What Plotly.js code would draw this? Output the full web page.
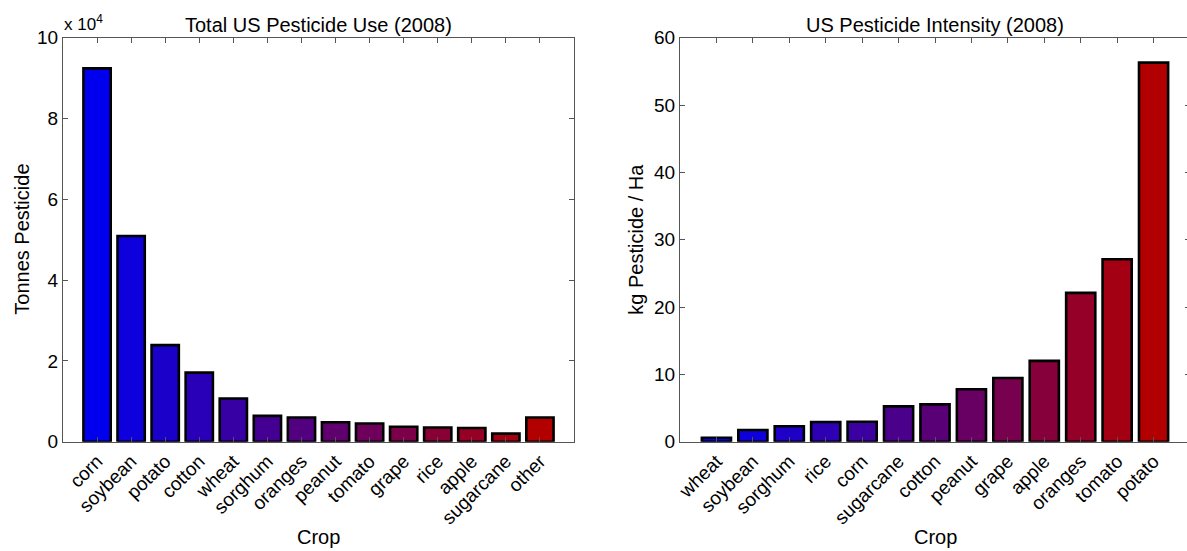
<!DOCTYPE html>
<html>
<head>
<meta charset="utf-8">
<script src="https://cdn.plot.ly/plotly-3.0.1.min.js"></script>
<style>
html,body{margin:0;padding:0;overflow:hidden;background:#fff;width:1187px;height:551px;}
#chart{width:1196px;height:551px;}
</style>
</head>
<body>
<div id="chart"></div>
<script>
// ---- data ----
var useCrops = ["corn","soybean","potato","cotton","wheat","sorghum","oranges","peanut","tomato","grape","rice","apple","sugarcane","other"];
var useTonnes = [92400, 50900, 23900, 17100, 10700, 6400, 6000, 4800, 4500, 3700, 3500, 3400, 2000, 6000];
var useTickVals = [0, 20000, 40000, 60000, 80000, 100000];
var useTickText = ["0","2","4","6","8","10"];

var intCrops = ["wheat","soybean","sorghum","rice","corn","sugarcane","cotton","peanut","grape","apple","oranges","tomato","potato"];
var intKgHa = [0.59, 1.74, 2.29, 2.92, 2.97, 5.25, 5.55, 7.78, 9.46, 12.0, 22.1, 27.1, 56.3];
var intTickVals = [0, 10, 20, 30, 40, 50, 60];

// ---- style helpers ----
function ramp(n){
  var out=[];
  for(var i=0;i<n;i++){
    var t = n>1 ? i/(n-1) : 0;
    var r = Math.round(0 + t*178);
    var b = Math.round(238*(1-t));
    out.push('rgb('+r+',0,'+b+')');
  }
  return out;
}
function idx(n){var a=[];for(var i=1;i<=n;i++)a.push(i);return a;}

var W = 1196, H = 551;
var fontFam = '"Liberation Sans", Arial, Helvetica, sans-serif';
var axisColor = '#555';
var tickSize = 19, titleSize = 20;

var trace1 = {
  type:'bar', x: idx(useCrops.length), y: useTonnes, width:0.8,
  marker:{color: ramp(useCrops.length), line:{color:'#000', width:2.6}},
  xaxis:'x', yaxis:'y', hoverinfo:'skip'
};
var trace2 = {
  type:'bar', x: idx(intCrops.length), y: intKgHa, width:0.8,
  marker:{color: ramp(intCrops.length), line:{color:'#000', width:2.6}},
  xaxis:'x2', yaxis:'y2', hoverinfo:'skip'
};

var yTop = 37.7, yBot = 441.7;
var yd = [(H-yBot)/H, (H-yTop)/H];

function xax(dom, n, labels){
  return {
    domain: dom, range:[0, n+1], tickvals: idx(n), ticktext: labels,
    tickangle:-45, ticks:'inside', ticklen:5, tickcolor:axisColor,
    showline:true, linecolor:axisColor, linewidth:1, mirror:'ticks',
    showgrid:false, zeroline:false, fixedrange:true,
    tickfont:{family:fontFam, size:tickSize, color:'#000'}
  };
}
function yax(dom, range, vals, text, anchor){
  var a = {
    domain: dom, range: range, tickvals: vals,
    ticks:'inside', ticklen:5, tickcolor:axisColor,
    showline:true, linecolor:axisColor, linewidth:1, mirror:'ticks',
    showgrid:false, zeroline:false, fixedrange:true, anchor: anchor,
    tickfont:{family:fontFam, size:tickSize, color:'#000'}
  };
  if(text) a.ticktext = text;
  return a;
}

var layout = {
  width: W, height: H,
  margin:{l:0,r:0,t:0,b:0},
  paper_bgcolor:'#fff', plot_bgcolor:'#fff',
  showlegend:false,
  bargap:0.2,
  xaxis: xax([63/W, 574/W], useCrops.length, useCrops),
  yaxis: yax(yd, [0, 100000], useTickVals, useTickText, 'x'),
  xaxis2: Object.assign(xax([680/W, 1190/W], intCrops.length, intCrops), {anchor:'y2'}),
  yaxis2: yax(yd, [0, 60], intTickVals, null, 'x2'),
  annotations: [
    {text:'Total US Pesticide Use (2008)', xref:'paper', yref:'paper', x:(63+574)/2/W, y:(H-25)/H,
     showarrow:false, font:{family:fontFam, size:titleSize, color:'#000'}, xanchor:'center', yanchor:'middle'},
    {text:'US Pesticide Intensity (2008)', xref:'paper', yref:'paper', x:(680+1190)/2/W, y:(H-25)/H,
     showarrow:false, font:{family:fontFam, size:titleSize, color:'#000'}, xanchor:'center', yanchor:'middle'},
    {text:'x 10<sup>4</sup>', xref:'paper', yref:'paper', x:62/W, y:(H-23)/H,
     showarrow:false, font:{family:fontFam, size:17, color:'#000'}, xanchor:'left', yanchor:'middle'},
    {text:'Crop', xref:'paper', yref:'paper', x:(63+574)/2/W, y:(H-537)/H,
     showarrow:false, font:{family:fontFam, size:titleSize, color:'#000'}, xanchor:'center', yanchor:'middle'},
    {text:'Crop', xref:'paper', yref:'paper', x:(680+1190)/2/W, y:(H-537)/H,
     showarrow:false, font:{family:fontFam, size:titleSize, color:'#000'}, xanchor:'center', yanchor:'middle'},
    {text:'Tonnes Pesticide', xref:'paper', yref:'paper', x:22/W, y:(H-(yTop+yBot)/2)/H, textangle:-90,
     showarrow:false, font:{family:fontFam, size:titleSize, color:'#000'}, xanchor:'center', yanchor:'middle'},
    {text:'kg Pesticide / Ha', xref:'paper', yref:'paper', x:636/W, y:(H-(yTop+yBot)/2)/H, textangle:-90,
     showarrow:false, font:{family:fontFam, size:titleSize, color:'#000'}, xanchor:'center', yanchor:'middle'}
  ]
};

Plotly.newPlot('chart', [trace1, trace2], layout, {displayModeBar:false, staticPlot:true});
</script>
</body>
</html>
